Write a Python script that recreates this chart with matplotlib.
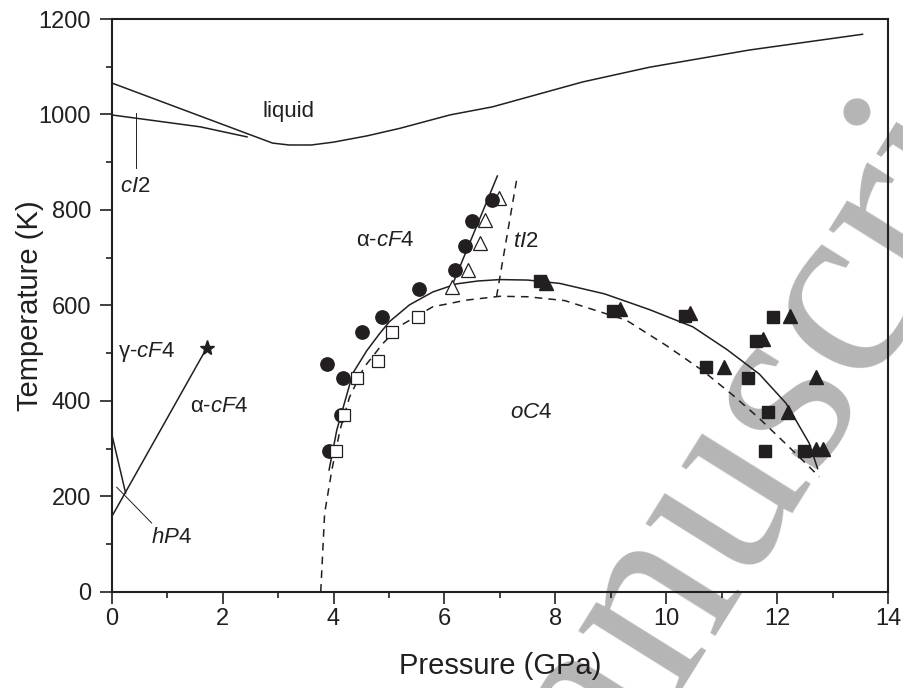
import matplotlib
matplotlib.use("Agg")
import matplotlib.pyplot as plt

plt.rcParams['font.family'] = ['Liberation Sans', 'DejaVu Sans']
plt.rcParams['mathtext.fontset'] = 'custom'
plt.rcParams['mathtext.rm'] = 'Liberation Sans'
plt.rcParams['mathtext.it'] = 'Liberation Sans:italic'

INK = '#231f20'

# ---------------- data ----------------
# liquidus (upper line)
liq_P = [0, 2.9, 3.2, 3.6, 4.0, 4.6, 5.2, 6.1, 6.87, 8.49, 9.70, 11.5, 13.54]
liq_T = [1066, 940, 936, 936, 942, 955, 971, 999, 1016, 1068, 1099, 1135, 1168]
# cI2 lower boundary
ci2_P = [0, 1.6, 2.44]
ci2_T = [999, 974, 953]
# alpha-cF4 / oC4 boundary (solid)
ao_P = [3.92, 4.06, 4.35, 4.6, 4.84, 5.01, 5.37, 5.79, 6.22, 6.6, 7.0, 7.5, 8.08, 8.89,
        9.7, 10.48, 11.1, 11.68, 12.16, 12.58, 12.73]
ao_T = [255, 339, 458, 505, 542, 566, 601, 628, 645, 651, 654, 653, 646, 624,
        591, 555, 507, 456, 395, 311, 258]
# dashed boundary
da_P = [3.77, 3.84, 3.97, 4.12, 4.29, 4.55, 4.89, 5.2, 5.79, 6.4, 7.0, 7.5, 8.17, 9.28,
        10.0, 10.66, 11.2, 11.68, 12.2, 12.76]
da_T = [0, 164, 255, 340, 408, 470, 520, 557, 597, 611, 619, 618, 610, 569,
        516, 463, 412, 363, 305, 241]
# alpha-cF4 / tI2 boundary (solid) and dashed tI2 line
at_P = [6.13, 6.955]
at_T = [639, 871]
ti_P = [6.94, 7.31]
ti_T = [618, 868]
# low pressure lines
ga_P = [0, 1.71]
ga_T = [157, 510]
hp_P = [0, 0.25]
hp_T = [331, 207]
star_P = [1.71]
star_T = [510]
# pointer lines
cI2_ptr_P = [0.44, 0.44]
cI2_ptr_T = [1003, 887]
hP4_ptr_P = [0.09, 0.72]
hP4_ptr_T = [219, 144]

# experimental points
circ_P = [6.86, 6.50, 6.38, 6.20, 5.54, 4.88, 4.52, 3.89, 4.17, 4.13, 3.92]
circ_T = [821, 777, 724, 674, 634, 576, 545, 478, 448, 370, 295]
otri_P = [6.98, 6.73, 6.64, 6.43, 6.13]
otri_T = [825, 779, 730, 675, 638]
osq_P = [5.52, 5.05, 4.80, 4.43, 4.19, 4.04]
osq_T = [576, 545, 484, 448, 370, 295]
fsq_P = [7.72, 9.04, 10.34, 11.92, 11.62, 10.72, 11.48, 11.84, 11.79, 12.49]
fsq_T = [652, 589, 578, 575, 526, 470, 448, 376, 295, 295]
ftri_P = [7.84, 9.16, 10.43, 12.23, 11.74, 11.05, 12.70, 12.20, 12.70, 12.82]
ftri_T = [647, 592, 583, 578, 529, 471, 450, 377, 298, 298]

x_ticks = [0, 2, 4, 6, 8, 10, 12, 14]
y_ticks = [0, 200, 400, 600, 800, 1000, 1200]

# ---------------- figure ----------------
fig = plt.figure(figsize=(9.04, 6.88), dpi=100)
ax = fig.add_axes([111.7 / 904, (688 - 591.7) / 688, (888 - 111.7) / 904, (591.7 - 19) / 688])
ax.patch.set_visible(False)

# watermark (behind everything)
fig.text(490 / 904, (688 - 984) / 688, "Manuscript", rotation=58, rotation_mode='anchor',
         ha='left', va='baseline', fontsize=186, family='Liberation Serif',
         color='#b5b5b5', zorder=-5)

lw = 1.1
ax.plot(liq_P, liq_T, color=INK, lw=lw)
ax.plot(ci2_P, ci2_T, color=INK, lw=lw)
ax.plot(ao_P, ao_T, color=INK, lw=lw)
ax.plot(da_P, da_T, color=INK, lw=lw, ls=(0, (5, 4)))
ax.plot(at_P, at_T, color=INK, lw=lw)
ax.plot(ti_P, ti_T, color=INK, lw=lw, ls=(0, (5, 4)))
ax.plot(ga_P, ga_T, color=INK, lw=lw)
ax.plot(hp_P, hp_T, color=INK, lw=lw)
ax.plot(cI2_ptr_P, cI2_ptr_T, color=INK, lw=0.7)
ax.plot(hP4_ptr_P, hP4_ptr_T, color=INK, lw=0.7)
ax.plot(star_P, star_T, marker='*', ms=11, color=INK, ls='none', clip_on=False)

ax.plot(otri_P, otri_T, ls='none', marker='^', ms=10, mfc='white', mec=INK, mew=0.9)
ax.plot(circ_P, circ_T, ls='none', marker='o', ms=9.6, mfc=INK, mec=INK)
ax.plot(osq_P, osq_T, ls='none', marker='s', ms=8.2, mfc='white', mec=INK, mew=0.9)
ax.plot(fsq_P, fsq_T, ls='none', marker='s', ms=8.2, mfc=INK, mec=INK)
ax.plot(ftri_P, ftri_T, ls='none', marker='^', ms=10, mfc=INK, mec=INK)

# labels
fs = 16
ax.text(3.19, 994, "liquid", fontsize=fs, ha='center', va='baseline', color=INK)
ax.text(0.425, 838, r"$\mathit{cI}$2", fontsize=fs, ha='center', va='baseline', color=INK)
ax.text(4.94, 725, r"α-$\mathit{cF}$4", fontsize=fs, ha='center', va='baseline', color=INK)
ax.text(7.47, 723, r"$\mathit{tI}$2", fontsize=fs, ha='center', va='baseline', color=INK)
ax.text(7.56, 365, r"$\mathit{oC}$4", fontsize=fs, ha='center', va='baseline', color=INK)
ax.text(0.63, 492, r"γ-$\mathit{cF}$4", fontsize=fs, ha='center', va='baseline', color=INK)
ax.text(1.95, 377, r"α-$\mathit{cF}$4", fontsize=fs, ha='center', va='baseline', color=INK)
ax.text(1.08, 101, r"$\mathit{hP}$4", fontsize=fs, ha='center', va='baseline', color=INK)

ax.set_xlim(0, 14)
ax.set_ylim(0, 1200)
ax.set_xticks(x_ticks)
ax.set_yticks(y_ticks)
ax.set_xticks([1, 3, 5, 7, 9, 11, 13], minor=True)
ax.set_yticks([100, 300, 500, 700, 900, 1100], minor=True)
ax.tick_params(which='major', direction='out', length=8.4, width=1.2, labelsize=17,
               colors=INK, pad=3.5)
ax.tick_params(axis='y', which='major', pad=6.5)
ax.tick_params(which='minor', direction='out', length=4.2, width=1.2, colors=INK)
for s in ax.spines.values():
    s.set_linewidth(1.5)
    s.set_color(INK)

ax.set_xlabel("Pressure (GPa)", fontsize=21, color=INK, labelpad=16)
ax.set_ylabel("Temperature (K)", fontsize=21, color=INK, labelpad=-4)

fig.savefig("out.png", dpi=100)
